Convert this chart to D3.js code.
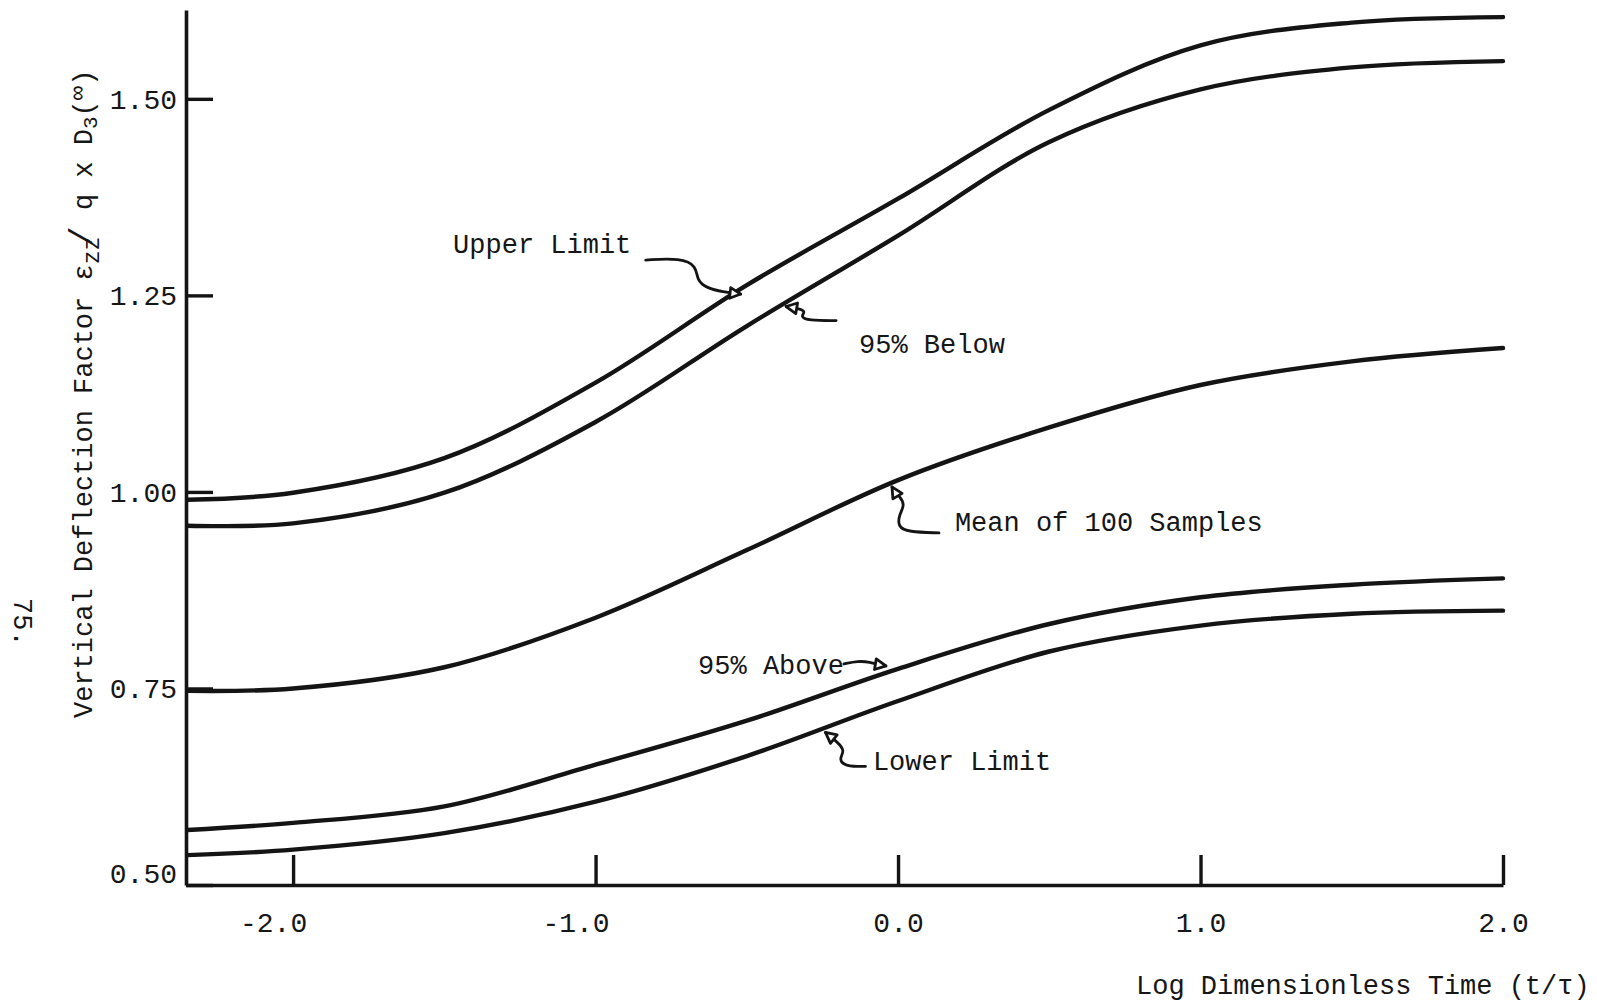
<!DOCTYPE html>
<html>
<head>
<meta charset="utf-8">
<script src="https://cdn.jsdelivr.net/npm/d3@7"></script>
<style>
  html, body { margin: 0; padding: 0; background: #fff; }
  svg { display: block; }
  text { font-family: "Liberation Mono", "DejaVu Sans Mono", monospace; fill: #161616; }
</style>
</head>
<body>
<svg id="chart" width="1597" height="1004"></svg>
<script>
// Log dimensionless time sample points
const logTime = [-2.35, -2.0, -1.5, -1.0, -0.5, 0.0, 0.5, 1.0, 1.5, 2.0];

// Vertical deflection factor curves (100 simulated samples)
const upperLimit = [0.990, 0.999, 1.043, 1.139, 1.263, 1.373, 1.486, 1.568, 1.597, 1.604];
const below95    = [0.957, 0.960, 0.999, 1.089, 1.211, 1.326, 1.445, 1.512, 1.540, 1.548];
const meanCurve  = [0.747, 0.750, 0.777, 0.840, 0.926, 1.015, 1.082, 1.136, 1.166, 1.183];
const above95    = [0.570, 0.579, 0.600, 0.653, 0.709, 0.775, 0.832, 0.866, 0.882, 0.890];
const lowerLimit = [0.538, 0.545, 0.566, 0.606, 0.664, 0.734, 0.797, 0.830, 0.845, 0.849];

// Axis ticks
const xTicks = [-2.0, -1.0, 0.0, 1.0, 2.0];
const yTicks = [0.50, 0.75, 1.00, 1.25, 1.50];

// Curve labels
const seriesNames = ["Upper Limit", "95% Below", "Mean of 100 Samples", "95% Above", "Lower Limit"];

const svg = d3.select("#chart");

const x = d3.scaleLinear().domain([-2.354, 2.0]).range([186, 1503]);
const y = d3.scaleLinear().domain([0.5, 1.613]).range([885, 10]);

const series = [upperLimit, below95, meanCurve, above95, lowerLimit].map((vals, i) => ({
  name: seriesNames[i],
  points: logTime.map((t, j) => [t, vals[j]])
}));

const line = d3.line()
  .x(d => x(d[0]))
  .y(d => y(d[1]))
  .curve(d3.curveCatmullRom.alpha(0.5));

// curves
svg.append("g")
  .selectAll("path")
  .data(series)
  .join("path")
  .attr("d", d => line(d.points))
  .attr("fill", "none")
  .attr("stroke", "#141414")
  .attr("stroke-width", 4.4)
  .attr("stroke-linecap", "round");

// y axis: ticks point into the plot
const yAxis = svg.append("g")
  .attr("transform", `translate(${x(-2.354)},0)`)
  .call(d3.axisLeft(y)
    .tickValues(yTicks)
    .tickSizeInner(-27)
    .tickSizeOuter(0)
    .tickPadding(9)
    .tickFormat(d => d.toFixed(2)));

// x axis: ticks point up
const xAxis = svg.append("g")
  .attr("transform", `translate(0,${y(0.5)})`)
  .call(d3.axisBottom(x)
    .tickValues(xTicks)
    .tickSizeInner(-30)
    .tickSizeOuter(0)
    .tickPadding(27)
    .tickFormat(d => d.toFixed(1)));

[yAxis, xAxis].forEach(g => {
  g.select(".domain").attr("stroke", "#141414").attr("stroke-width", 3.6);
  g.selectAll(".tick line").attr("stroke", "#141414").attr("stroke-width", 3.4);
  g.selectAll(".tick text")
    .style("font-family", '"Liberation Mono", monospace')
    .attr("font-size", 28)
    .attr("fill", "#161616");
});
yAxis.selectAll(".tick text").attr("dy", d => d === 0.5 ? "-0.08em" : "0.34em");
xAxis.selectAll(".tick text").attr("dx", d => d < 0 ? -20 : 0);

// axis titles
const yTitle = svg.append("text")
  .attr("transform", `translate(92,718) rotate(-90)`)
  .attr("font-size", 27);
yTitle.append("tspan").text("Vertical Deflection Factor \u03b5");
yTitle.append("tspan").attr("baseline-shift", "-30%").attr("font-size", 23).text("zz");
yTitle.append("tspan").attr("font-size", 34).attr("dx", -10).text("/");
yTitle.append("tspan").text(" q x D");
yTitle.append("tspan").attr("baseline-shift", "-25%").attr("font-size", 21).text("3");
yTitle.append("tspan").text("(");
yTitle.append("tspan").attr("baseline-shift", "30%").attr("font-size", 24).text("\u221e");
yTitle.append("tspan").text(")");

svg.append("text")
  .attr("x", 1136)
  .attr("y", 994)
  .attr("font-size", 27)
  .text("Log Dimensionless Time (t/\u03c4)");

// page number
svg.append("text")
  .attr("transform", "translate(14,598) rotate(90)")
  .attr("font-size", 27)
  .text("75.");

// curve annotations: label position in data units, arrow tip on a curve,
// and the hand-drawn leader as pixel offsets from the tip
const valueAt = (s, t) => {
  const pts = series[s].points;
  let i = 1;
  while (i < pts.length - 1 && pts[i][0] < t) i++;
  const a = pts[i - 1], b = pts[i];
  const k = (t - a[0]) / (b[0] - a[0]);
  return a[1] + k * (b[1] - a[1]);
};

const notes = [
  { s: 0, tx: -1.471, ty: 1.304, tipT: -0.52, tipDy: 5,
    path: [[-95, -34], [-60, -36], [-44, -28], [-44, -14], [-34, -6], [-18, -2]] },
  { s: 1, tx: -0.129, ty: 1.177, tipT: -0.37, tipDy: 4,
    path: [[50, 14], [22, 14], [14, 10], [20, 5], [12, 2], [6, 1]] },
  { s: 2, tx: 0.188, ty: 0.950, tipT: -0.02, tipDy: 4,
    path: [[47, 46], [16, 45], [6, 40], [7, 28], [13, 18], [8, 10], [3, 5]] },
  { s: 3, tx: -0.661, ty: 0.768, tipT: -0.04, tipDy: -7,
    path: [[-42, -2], [-28, -5], [-16, -4], [-6, -1]] },
  { s: 4, tx: -0.083, ty: 0.646, tipT: -0.24, tipDy: 5,
    path: [[40, 34], [20, 34], [13, 27], [20, 18], [11, 9], [5, 4]] }
];

const defs = svg.append("defs");
defs.append("marker")
  .attr("id", "head")
  .attr("viewBox", "0 0 14 14")
  .attr("refX", 12).attr("refY", 7)
  .attr("markerWidth", 15).attr("markerHeight", 15)
  .attr("markerUnits", "userSpaceOnUse")
  .attr("orient", "auto")
  .append("path")
  .attr("d", "M2,2 L12,7 L2,12 Z")
  .attr("fill", "#fff")
  .attr("stroke", "#141414")
  .attr("stroke-width", 2.6)
  .attr("stroke-linejoin", "round");

const leader = d3.line().curve(d3.curveBasis);

notes.forEach(n => {
  const tipX = x(n.tipT);
  const tipY = y(valueAt(n.s, n.tipT)) + n.tipDy;
  const pts = n.path.map(p => [tipX + p[0], tipY + p[1]]).concat([[tipX, tipY]]);
  svg.append("path")
    .attr("d", leader(pts))
    .attr("fill", "none")
    .attr("stroke", "#141414")
    .attr("stroke-width", 2.8)
    .attr("stroke-linecap", "round")
    .attr("marker-end", "url(#head)");
  svg.append("text")
    .attr("x", x(n.tx))
    .attr("y", y(n.ty))
    .attr("font-size", 27)
    .text(seriesNames[n.s]);
});
</script>
</body>
</html>
